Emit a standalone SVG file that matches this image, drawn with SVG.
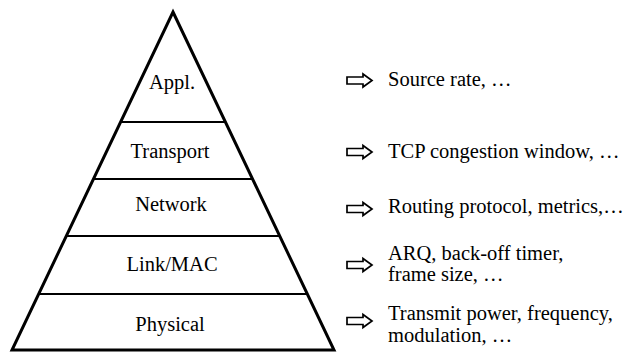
<svg xmlns="http://www.w3.org/2000/svg" width="631" height="352" viewBox="0 0 631 352">
<defs>
<style>
text{font-family:'Liberation Serif','Times New Roman',serif;font-size:20.5px;fill:#000}
.layer{text-anchor:middle}
.div{stroke:#000;stroke-width:2;fill:none}
.arr{fill:#fff;stroke:#000;stroke-width:1.7;stroke-linejoin:miter}
</style>
<path id="ar" class="arr" d="M0,-3.5 H16 V-6.5 L25,0 L16,6.5 V3.5 H0 Z"/>
</defs>
<rect width="631" height="352" fill="#fff"/>
<g id="pyramid">
<polygon points="173,12 334,350 12,350" fill="none" stroke="#000" stroke-width="3" stroke-linejoin="miter"/>
</g>
<g id="dividers">
<line class="div" x1="121" y1="122" x2="225" y2="122"/>
<line class="div" x1="94" y1="179" x2="252" y2="179"/>
<line class="div" x1="67" y1="236" x2="279" y2="236"/>
<line class="div" x1="39" y1="294" x2="307" y2="294"/>
</g>
<g id="appl"><text class="layer" x="172" y="89">Appl.</text></g>
<g id="transport"><text class="layer" x="170" y="158">Transport</text></g>
<g id="network"><text class="layer" x="171" y="211">Network</text></g>
<g id="link"><text class="layer" x="172" y="271">Link/MAC</text></g>
<g id="physical"><text class="layer" x="170" y="331">Physical</text></g>
<g id="connectors">
<use href="#ar" x="347" y="80.5"/>
<use href="#ar" x="347" y="152"/>
<use href="#ar" x="347" y="209"/>
<use href="#ar" x="347" y="265"/>
<use href="#ar" x="347" y="321"/>
</g>
<g id="label-appl"><text x="388" y="86">Source rate, …</text></g>
<g id="label-transport"><text x="388" y="158">TCP congestion window, …</text></g>
<g id="label-network"><text x="388" y="213">Routing protocol, metrics,…</text></g>
<g id="label-link"><text x="388" y="260">ARQ, back-off timer,</text><text x="388" y="281">frame size, …</text></g>
<g id="label-physical"><text x="388" y="320">Transmit power, frequency,</text><text x="388" y="342">modulation, …</text></g>
</svg>
